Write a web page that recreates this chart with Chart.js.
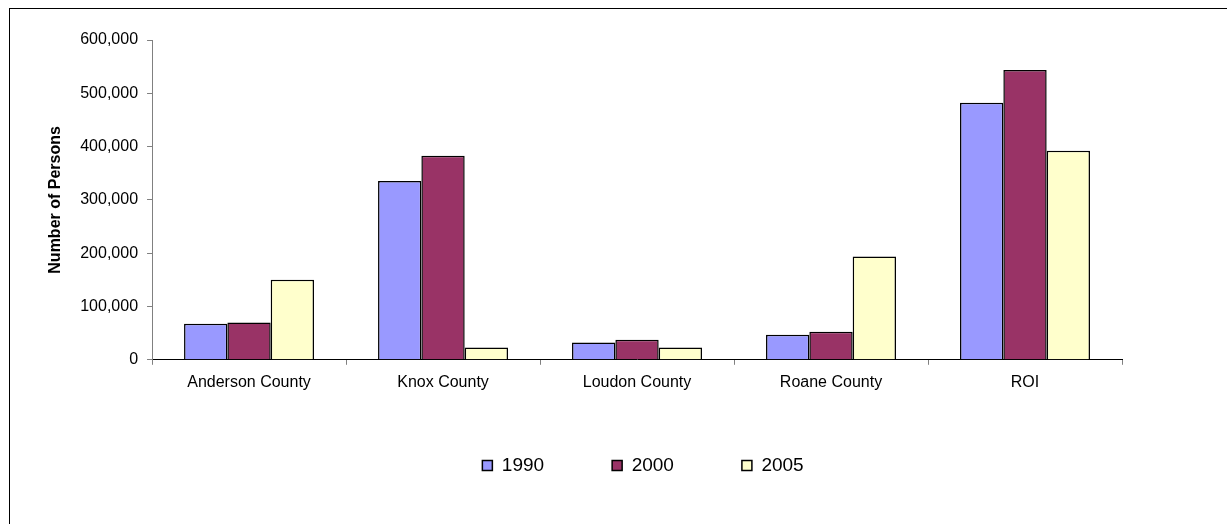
<!DOCTYPE html>
<html>
<head>
<meta charset="utf-8">
<script src="https://cdn.jsdelivr.net/npm/chart.js@4/dist/chart.umd.min.js"></script>
<style>
html,body{margin:0;padding:0;background:#fff;overflow:hidden;}
#wrap{position:absolute;left:0;top:0;width:1227px;height:524px;overflow:hidden;}
#frame{position:absolute;left:9px;top:8px;width:1240px;height:540px;border:1px solid #000;box-sizing:border-box;pointer-events:none;}
</style>
</head>
<body>
<div id="wrap"><canvas id="c" width="1227" height="524"></canvas><div id="frame"></div></div>
<script>
const categories = ["Anderson County", "Knox County", "Loudon County", "Roane County", "ROI"];
const seriesNames = ["1990", "2000", "2005"];
const values1990 = [67500, 335500, 32500, 47000, 482500];
const values2000 = [70000, 383000, 37500, 52500, 543500];
const values2005 = [150000, 23000, 23000, 194000, 392000];
const colors = ["#9999FF", "#993366", "#FFFFCC"];
const yTicks = [0, 100000, 200000, 300000, 400000, 500000, 600000];

const font = "Arial, 'Liberation Sans', sans-serif";

// nudge the legend block to sit where the original places it
const legendNudge = {
  id: 'legendNudge',
  afterLayout(chart) {
    const lg = chart.legend;
    if (!lg) return;
    lg.top -= 12; lg.bottom -= 12;
    lg.left += 6; lg.right += 6;
  }
};

new Chart(document.getElementById('c'), {
  type: 'bar',
  data: {
    labels: categories,
    datasets: [values1990, values2000, values2005].map((v, i) => ({
      label: seriesNames[i],
      data: v,
      backgroundColor: colors[i],
      borderColor: '#000',
      borderWidth: 1.5,
      barPercentage: 1,
      categoryPercentage: 0.67
    }))
  },
  plugins: [legendNudge],
  options: {
    responsive: false,
    animation: false,
    layout: {padding: {left: 46, right: 105, top: 40, bottom: 27}},
    plugins: {
      tooltip: {enabled: false},
      legend: {
        position: 'bottom',
        fullSize: false,
        labels: {
          boxWidth: 10, boxHeight: 10, padding: 68,
          color: '#000',
          font: {family: font, size: 19}
        }
      }
    },
    scales: {
      x: {
        grid: {display: true, drawOnChartArea: false, drawTicks: true, tickLength: 5, color: '#808080'},
        border: {color: '#000', width: 1},
        ticks: {color: '#000', font: {family: font, size: 16}, padding: 8}
      },
      y: {
        min: 0, max: 600000,
        afterBuildTicks: (ax) => { ax.ticks = yTicks.map(v => ({value: v})); },
        grid: {display: true, drawOnChartArea: false, drawTicks: true, tickLength: 5, color: '#808080'},
        border: {color: '#808080', width: 1},
        ticks: {color: '#000', font: {family: font, size: 16}, padding: 9,
          callback: (v) => v.toLocaleString('en-US')},
        title: {display: true, text: 'Number of Persons', color: '#000',
          font: {family: font, size: 16, weight: 'bold'}, padding: {top: 0, bottom: 6}}
      }
    }
  }
});
</script>
</body>
</html>
